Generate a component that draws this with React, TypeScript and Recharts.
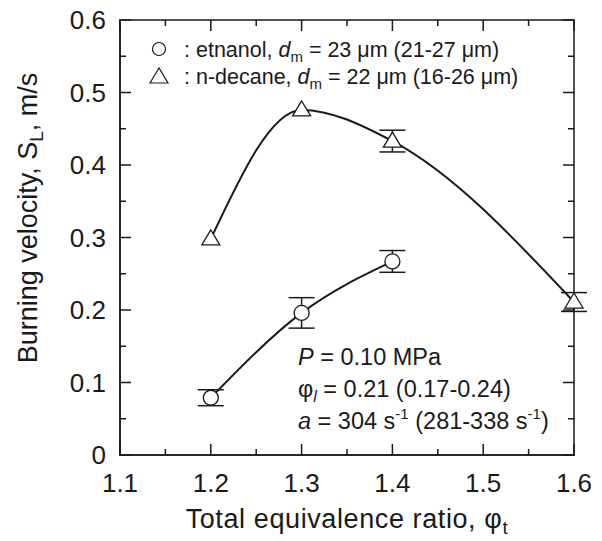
import * as React from 'react'
import { ComposedChart, Line, Scatter, ErrorBar, XAxis, YAxis } from 'recharts'

// ethanol spray flame
const phiEthanol = [1.2, 1.3, 1.4]
const slEthanol = [0.079, 0.196, 0.267]
const errEthanol = [0.011, 0.021, 0.015]

// n-decane spray flame (no visible bars at 1.2 / 1.3)
const phiDecane = [1.2, 1.3, 1.4, 1.6]
const slDecane = [0.298, 0.476, 0.433, 0.211]
const errDecane = [0, 0, 0.015, 0.013]

const xTicks = [1.1, 1.15, 1.2, 1.25, 1.3, 1.35, 1.4, 1.45, 1.5, 1.55, 1.6]
const yTicks = [0, 0.05, 0.1, 0.15, 0.2, 0.25, 0.3, 0.35, 0.4, 0.45, 0.5, 0.55, 0.6]

const ethanol = phiEthanol.map((phi, i) => ({ phi, sl: slEthanol[i], err: errEthanol[i] }))
const decane = phiDecane.map((phi, i) => ({ phi, sl: slDecane[i], err: errDecane[i] }))

const FONT = '"Liberation Sans", Arial, sans-serif'
const INK = '#1a1a1a'

// plot box (chart 602x541, margins + axis room)
const LEFT = 120
const TOP = 20
const PLOT_W = 602 - LEFT - 28
const PLOT_H = 541 - TOP - 86
const X_DOMAIN = [1.1, 1.6]
const Y_DOMAIN = [0, 0.6]
const LW = 1.5

const isMajor = (v: number) => Math.abs(v * 10 - Math.round(v * 10)) < 1e-6
const fmt = (v: number) => (v === 0 ? '0' : v.toFixed(1))

const sx = (v: number) => LEFT + ((v - X_DOMAIN[0]) / (X_DOMAIN[1] - X_DOMAIN[0])) * PLOT_W
const sy = (v: number) => TOP + PLOT_H - ((v - Y_DOMAIN[0]) / (Y_DOMAIN[1] - Y_DOMAIN[0])) * PLOT_H

// frame + inward ticks as thin filled bars
const frameBars = [
  { x: LEFT - LW / 2, y: TOP - LW / 2, w: LW, h: PLOT_H + LW },
  { x: LEFT + PLOT_W - LW / 2, y: TOP - LW / 2, w: LW, h: PLOT_H + LW },
  { x: LEFT - LW / 2, y: TOP - LW / 2, w: PLOT_W + LW, h: LW },
  { x: LEFT - LW / 2, y: TOP + PLOT_H - LW / 2, w: PLOT_W + LW, h: LW },
  ...xTicks.flatMap((v) => {
    const l = isMajor(v) ? 11 : 6
    return [
      { x: sx(v) - LW / 2, y: TOP + PLOT_H - l, w: LW, h: l },
      { x: sx(v) - LW / 2, y: TOP, w: LW, h: l },
    ]
  }),
  ...yTicks.flatMap((v) => {
    const l = isMajor(v) ? 11 : 6
    return [
      { x: LEFT, y: sy(v) - LW / 2, w: l, h: LW },
      { x: LEFT + PLOT_W - l, y: sy(v) - LW / 2, w: l, h: LW },
    ]
  }),
]

const XTick = ({ x, y, payload }: any) =>
  isMajor(payload.value) ? (
    <text x={x} y={y + 37} textAnchor="middle" fontSize={26} fontFamily={FONT} fill={INK}>
      {fmt(payload.value)}
    </text>
  ) : (
    <g />
  )

const YTick = ({ x, y, payload }: any) =>
  isMajor(payload.value) ? (
    <text x={x - 14} y={y + 9} textAnchor="end" fontSize={26} fontFamily={FONT} fill={INK}>
      {fmt(payload.value)}
    </text>
  ) : (
    <g />
  )

const Circle = ({ cx, cy }: any) => (
  <circle cx={cx} cy={cy} r={7.5} fill="#fff" stroke={INK} strokeWidth={1.3} />
)

const Triangle = ({ cx, cy }: any) => (
  <polygon
    points={`${cx},${cy - 9} ${cx - 9},${cy + 6} ${cx + 9},${cy + 6}`}
    fill="#fff"
    stroke={INK}
    strokeWidth={1.3}
  />
)

const NoMark = () => <g />

export default function App() {
  return (
    <div style={{ position: 'absolute', left: 0, top: 0 }}>
      <ComposedChart width={602} height={541} margin={{ top: TOP, right: 28, bottom: 0, left: 0 }}>
        <XAxis
          dataKey="phi"
          type="number"
          domain={X_DOMAIN}
          ticks={xTicks}
          interval={0}
          height={86}
          tickSize={0}
          tickMargin={0}
          tickLine={false}
          stroke={INK}
          strokeWidth={LW}
          tick={<XTick />}
        />
        <YAxis
          type="number"
          domain={Y_DOMAIN}
          ticks={yTicks}
          interval={0}
          width={LEFT}
          tickSize={0}
          tickMargin={0}
          tickLine={false}
          stroke={INK}
          strokeWidth={LW}
          tick={<YTick />}
        />

        {frameBars.map((b, i) => (
          <rect key={i} x={b.x} y={b.y} width={b.w} height={b.h} fill={INK} />
        ))}

        <Line data={decane} dataKey="sl" type="monotone" stroke={INK} strokeWidth={2} dot={false} isAnimationActive={false} />
        <Line data={ethanol} dataKey="sl" type="natural" stroke={INK} strokeWidth={2} dot={false} isAnimationActive={false} />

        <Scatter data={decane.filter((d) => d.err > 0)} dataKey="sl" shape={<NoMark />} isAnimationActive={false}>
          <ErrorBar dataKey="err" direction="y" width={13} stroke={INK} strokeWidth={1.5} />
        </Scatter>
        <Scatter data={ethanol} dataKey="sl" shape={<NoMark />} isAnimationActive={false}>
          <ErrorBar dataKey="err" direction="y" width={13} stroke={INK} strokeWidth={1.5} />
        </Scatter>
        <Scatter data={decane} dataKey="sl" shape={<Triangle />} isAnimationActive={false} />
        <Scatter data={ethanol} dataKey="sl" shape={<Circle />} isAnimationActive={false} />

        {/* legend */}
        <circle cx={159} cy={49} r={6.5} fill="#fff" stroke={INK} strokeWidth={1.2} />
        <polygon points="159,68 150,83 168,83" fill="#fff" stroke={INK} strokeWidth={1.2} />
        <text x={184} y={57} fontSize={21.5} fontFamily={FONT} fill={INK}>
          : etnanol, <tspan fontStyle="italic">d</tspan>
          <tspan fontSize={15} dy={5}>m</tspan>
          <tspan dy={-5}> = 23 μm (21-27 μm)</tspan>
        </text>
        <text x={184} y={84} fontSize={21.5} fontFamily={FONT} fill={INK}>
          : n-decane, <tspan fontStyle="italic">d</tspan>
          <tspan fontSize={15} dy={5}>m</tspan>
          <tspan dy={-5}> = 22 μm (16-26 μm)</tspan>
        </text>

        {/* conditions */}
        <text x={298} y={365} fontSize={23.5} fontFamily={FONT} fill={INK}>
          <tspan fontStyle="italic">P</tspan> = 0.10 MPa
        </text>
        <text x={298} y={397} fontSize={23.5} fontFamily={FONT} fill={INK}>
          φ<tspan fontSize={16} fontStyle="italic" dy={5}>l</tspan>
          <tspan dy={-5}> = 0.21 (0.17-0.24)</tspan>
        </text>
        <text x={298} y={429} fontSize={23.5} fontFamily={FONT} fill={INK}>
          <tspan fontStyle="italic">a</tspan> = 304 s<tspan fontSize={15} dy={-10}>-1</tspan>
          <tspan dy={10}> (281-338 s</tspan>
          <tspan fontSize={15} dy={-10}>-1</tspan>
          <tspan dy={10}>)</tspan>
        </text>

        {/* axis titles */}
        <text x={347} y={528} textAnchor="middle" fontSize={27} fontFamily={FONT} fill={INK} letterSpacing={0.6}>
          Total equivalence ratio, φ<tspan fontSize={19} dy={6}>t</tspan>
        </text>
        <text
          transform="translate(37,218) rotate(-90)"
          textAnchor="middle"
          fontSize={27}
          fontFamily={FONT}
          fill={INK}
        >
          Burning velocity, S<tspan fontSize={19} dy={6}>L</tspan>
          <tspan dy={-6}>, m/s</tspan>
        </text>
      </ComposedChart>
    </div>
  )
}
